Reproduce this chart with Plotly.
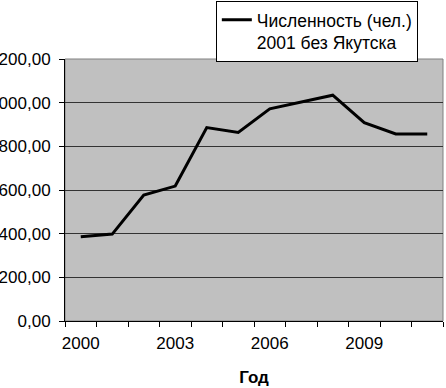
import plotly.graph_objects as go

years = [2000, 2001, 2002, 2003, 2004, 2005, 2006, 2007, 2008, 2009, 2010, 2011]
values = [386, 398, 577, 618, 886, 864, 972, 1003, 1034, 908, 857, 857]
tick_years = [2000, 2003, 2006, 2009]
series_name = "Численность (чел.)<br>2001 без Якутска"

idx = list(range(len(years)))
FONT = "Liberation Sans, Arial, sans-serif"

fig = go.Figure()
fig.add_trace(go.Scatter(
    x=idx, y=values, mode="lines", name=series_name,
    line=dict(color="black", width=3), showlegend=True,
))

fig.update_layout(
    template="none",
    width=446, height=388,
    margin=dict(l=65, r=3, t=59, b=67, autoexpand=False),
    paper_bgcolor="white",
    plot_bgcolor="#C0C0C0",
    separators=", ",
    font=dict(family=FONT, size=17, color="black"),
    showlegend=True,
    legend=dict(
        x=0.399, y=1.222, xanchor="left", yanchor="top",
        bgcolor="white", bordercolor="black", borderwidth=1,
        font=dict(family=FONT, size=17.5, color="black"),
        valign="top", tracegroupgap=0,
        entrywidth=150, entrywidthmode="pixels",
    ),
    xaxis=dict(
        range=[-0.5, len(years) - 0.5],
        tickmode="array",
        tickvals=[years.index(y) for y in tick_years],
        ticktext=[str(y) for y in tick_years],
        ticks="", showgrid=False, zeroline=False,
        showline=True, linecolor="black", linewidth=1,
        automargin=False,
        ticklabelstandoff=7,
        minor=dict(ticks="outside", tick0=0.5, dtick=1, ticklen=5,
                   tickcolor="black", showgrid=False),
        title=dict(text="<b>Год</b>", font=dict(family=FONT, size=17), standoff=18),
        fixedrange=True,
    ),
    yaxis=dict(
        range=[0, 1200], dtick=200, tick0=0,
        tickformat=".2f",
        ticks="outside", ticklen=5, tickcolor="black",
        showgrid=True, gridcolor="#333333", gridwidth=1,
        zeroline=False,
        showline=True, linecolor="black", linewidth=1,
        automargin=False,
        ticklabelstandoff=5,
        fixedrange=True,
    ),
)

fig.add_shape(type="rect", xref="paper", yref="paper", x0=0, x1=1, y0=0, y1=1,
              line=dict(color="#808080", width=1), layer="below")

fig.write_html("out.html", config={"displayModeBar": False},
               post_script="document.body.style.margin='0';document.body.style.overflow='hidden';")
